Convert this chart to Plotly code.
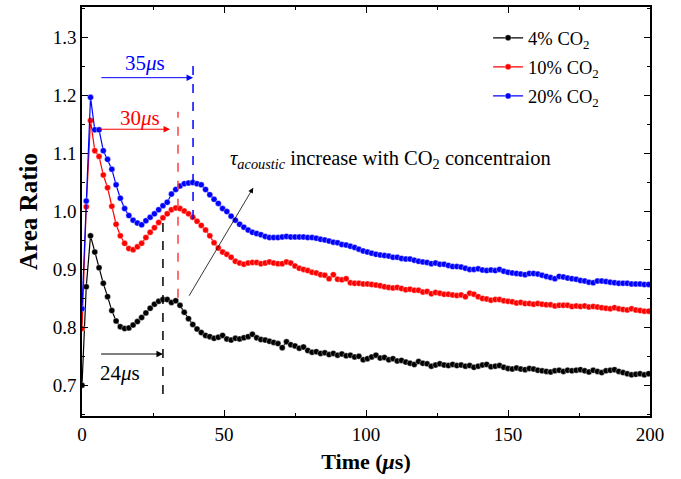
import numpy as np
import plotly.graph_objects as go

dt = 1.5
co2_4 = [0.700,0.870,0.958,0.930,0.903,0.876,0.853,0.829,0.811,0.801,0.798,0.799,0.804,0.810,0.817,0.825,0.833,0.840,0.845,0.848,
         0.848,0.843,0.846,0.838,0.826,0.815,0.805,0.797,0.791,0.786,0.784,0.781,0.783,0.786,0.780,0.778,0.781,0.780,0.782,0.784,
         0.788,0.782,0.779,0.778,0.776,0.774,0.772,0.765,0.775,0.770,0.768,0.764,0.766,0.760,0.757,0.758,0.755,0.756,0.753,0.755,
         0.752,0.754,0.751,0.752,0.749,0.750,0.744,0.746,0.749,0.752,0.747,0.748,0.744,0.746,0.742,0.743,0.740,0.738,0.736,0.741,
         0.738,0.737,0.733,0.735,0.737,0.735,0.734,0.736,0.734,0.735,0.733,0.734,0.731,0.733,0.735,0.736,0.732,0.733,0.734,0.731,
         0.729,0.728,0.730,0.728,0.727,0.729,0.728,0.726,0.725,0.724,0.723,0.725,0.726,0.724,0.726,0.725,0.726,0.727,0.725,0.723,
         0.726,0.724,0.722,0.725,0.726,0.727,0.724,0.722,0.720,0.718,0.719,0.720,0.718,0.720]
co2_10 = [0.798,1.008,1.157,1.105,1.095,1.063,1.041,1.009,0.978,0.958,0.945,0.936,0.934,0.939,0.945,0.955,0.964,0.972,0.981,0.989,
          0.996,1.003,1.006,1.005,1.001,0.996,0.990,0.983,0.976,0.968,0.958,0.946,0.937,0.930,0.926,0.921,0.914,0.911,0.909,0.911,
          0.912,0.912,0.910,0.911,0.913,0.911,0.910,0.910,0.913,0.911,0.906,0.902,0.900,0.898,0.895,0.894,0.891,0.890,0.884,0.891,
          0.883,0.882,0.884,0.877,0.876,0.876,0.875,0.875,0.874,0.873,0.872,0.870,0.869,0.868,0.869,0.867,0.865,0.866,0.864,0.864,
          0.861,0.862,0.858,0.860,0.859,0.857,0.857,0.856,0.855,0.856,0.853,0.859,0.857,0.853,0.850,0.849,0.847,0.848,0.848,0.846,
          0.845,0.844,0.842,0.843,0.841,0.841,0.840,0.841,0.840,0.839,0.839,0.837,0.838,0.838,0.838,0.836,0.837,0.836,0.837,0.835,
          0.836,0.835,0.834,0.833,0.832,0.834,0.832,0.831,0.830,0.832,0.830,0.829,0.828,0.828]
co2_20 = [0.832,1.018,1.197,1.141,1.141,1.105,1.090,1.073,1.046,1.023,1.005,0.993,0.985,0.980,0.977,0.984,0.990,0.996,1.003,1.010,
          1.016,1.030,1.038,1.044,1.048,1.049,1.050,1.048,1.046,1.038,1.029,1.021,1.014,1.005,1.000,0.992,0.985,0.978,0.973,0.968,
          0.964,0.962,0.960,0.957,0.955,0.955,0.955,0.956,0.957,0.956,0.956,0.956,0.956,0.955,0.955,0.954,0.952,0.951,0.949,0.947,
          0.946,0.943,0.942,0.940,0.938,0.935,0.932,0.930,0.928,0.926,0.925,0.924,0.923,0.921,0.921,0.919,0.918,0.918,0.916,0.914,
          0.913,0.912,0.910,0.911,0.909,0.909,0.907,0.905,0.905,0.904,0.902,0.900,0.900,0.901,0.899,0.898,0.899,0.898,0.900,0.897,
          0.895,0.894,0.893,0.892,0.891,0.893,0.893,0.892,0.890,0.888,0.886,0.884,0.888,0.887,0.885,0.884,0.883,0.881,0.880,0.878,
          0.877,0.880,0.880,0.879,0.878,0.877,0.876,0.876,0.876,0.875,0.875,0.875,0.874,0.874]

series = [("4% CO<sub>2</sub>", co2_4, "black"),
          ("10% CO<sub>2</sub>", co2_10, "#ff0000"),
          ("20% CO<sub>2</sub>", co2_20, "#0000ff")]

FONT = "Liberation Serif"
fig = go.Figure()
for i, (name, vals, col) in enumerate(series):
    t = np.arange(len(vals)) * dt
    fig.add_trace(go.Scatter(x=t, y=vals, mode="lines+markers", name=name, legendgroup=f"g{i}",
                             line=dict(color=col, width=1.2),
                             marker=dict(size=6, color=col, line=dict(color="rgba(255,255,255,0.6)", width=0.6))))

shapes = [
    dict(type="line", x0=39.1, x1=39.1, y0=0.987, y1=1.253, line=dict(color="#0000ff", width=1.5, dash="dash")),
    dict(type="line", x0=33.8, x1=33.8, y0=0.851, y1=1.172, line=dict(color="#ff4040", width=1.5, dash="dash")),
    dict(type="line", x0=28.5, x1=28.5, y0=0.685, y1=0.987, line=dict(color="black", width=1.5, dash="dash")),
]
anns = [
    dict(x=39.1, y=1.231, ax=6.3, ay=1.231, axref="x", ayref="y", xref="x", yref="y", text="", showarrow=True,
         arrowhead=2, arrowsize=1.3, arrowwidth=1, arrowcolor="#0000ff"),
    dict(x=31.0, y=1.142, ax=5.6, ay=1.142, axref="x", ayref="y", xref="x", yref="y", text="", showarrow=True,
         arrowhead=2, arrowsize=1.3, arrowwidth=1, arrowcolor="#ff0000"),
    dict(x=28.5, y=0.754, ax=6.2, ay=0.754, axref="x", ayref="y", xref="x", yref="y", text="", showarrow=True,
         arrowhead=2, arrowsize=1.3, arrowwidth=1, arrowcolor="black"),
    dict(x=60.3, y=1.041, ax=37.4, ay=0.852, axref="x", ayref="y", xref="x", yref="y", text="", showarrow=True,
         arrowhead=2, arrowsize=1.3, arrowwidth=0.8, arrowcolor="black"),
    dict(x=22.2, y=1.257, xref="x", yref="y", text="35<i>μ</i>s", showarrow=False,
         font=dict(family=FONT, size=21, color="#0000ff")),
    dict(x=20.4, y=1.162, xref="x", yref="y", text="30<i>μ</i>s", showarrow=False,
         font=dict(family=FONT, size=21, color="#ff0000")),
    dict(x=13.4, y=0.722, xref="x", yref="y", text="24<i>μ</i>s", showarrow=False,
         font=dict(family=FONT, size=21, color="black")),
    dict(x=51.3, y=1.089, xref="x", yref="y", xanchor="left",
         text="<i>τ</i><sub><i>acoustic</i></sub> increase with CO<sub>2</sub> concentraion", showarrow=False,
         font=dict(family=FONT, size=20.5, color="black")),
]

axis_common = dict(showline=True, linecolor="black", linewidth=1.5, mirror="allticks",
                   ticks="inside", ticklen=6, tickwidth=1, tickcolor="black",
                   showgrid=False, zeroline=False,
                   tickfont=dict(family=FONT, size=19, color="black"))

fig.update_layout(
    width=681, height=479,
    margin=dict(l=82, r=31, t=5, b=63),
    paper_bgcolor="white", plot_bgcolor="white",
    shapes=shapes, annotations=anns,
    font=dict(family=FONT, color="black"),
    legend=dict(x=0.715, y=0.97, xanchor="left", yanchor="top", bgcolor="rgba(0,0,0,0)",
                font=dict(family=FONT, size=18.5), tracegroupgap=2, itemwidth=30),
    xaxis=dict(range=[0, 200], dtick=50, tick0=0,
               minor=dict(dtick=25, ticklen=3, ticks="inside", tickcolor="black"),
               title=dict(text="<b>Time (<i>μ</i>s)</b>", font=dict(family=FONT, size=22), standoff=10),
               **axis_common),
    yaxis=dict(range=[0.647, 1.353], dtick=0.1, tick0=0.7, tickformat=".1f",
               minor=dict(dtick=0.05, ticklen=3, ticks="inside", tickcolor="black"),
               title=dict(text="<b>Area Ratio</b>", font=dict(family=FONT, size=25), standoff=8),
               **axis_common),
)
fig.write_html("out.html")
